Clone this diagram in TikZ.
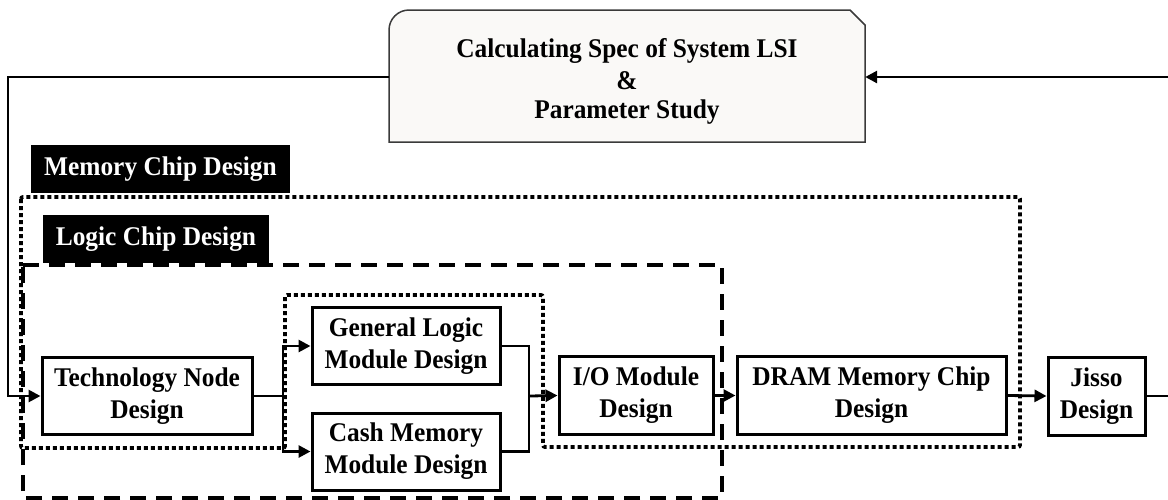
\documentclass[tikz,border=0pt]{standalone}
\usepackage{fontspec}
\setmainfont{Liberation Serif}[FakeStretch=0.94]
\usetikzlibrary{arrows.meta}
\definecolor{specfill}{HTML}{FAF9F7}
\definecolor{specline}{HTML}{3A3A3A}
\begin{document}
\begin{tikzpicture}[x=1pt,y=-1pt,
  every node/.style={font=\bfseries\fontsize{27}{32}\selectfont, align=center, inner sep=0pt},
  box/.style={draw, line width=3pt},
  tag/.style={fill=black, text=white},
  link/.style={line width=2.8pt},
  flow/.style={line width=2.8pt, -{Triangle[length=12pt,width=12pt]}},
  memregion/.style={line width=3.8pt, dash pattern=on 4pt off 3pt, rounded corners=2pt},
  logicregion/.style={line width=4pt, dash pattern=on 16pt off 10pt}]
\useasboundingbox (0,0) rectangle (1168,499);

% specification box with one rounded and one cut corner
\draw[line width=1.5pt, draw=specline, fill=specfill]
  (389,142) -- (389,30) .. controls (389,19) and (398,10) .. (409,10)
  -- (850,10) -- (865,25) -- (865,142) -- cycle;
\node[minimum width=476pt, minimum height=132pt] (spec) at (627,81)
  {Calculating Spec of System LSI\\\&\\[-3pt]Parameter Study};

% memory chip region (dotted, with a notch around the logic modules)
\draw[memregion] (21,197) -- (21,448) -- (285,448) -- (285,295) -- (543,295)
  -- (543,447) -- (1020,447) -- (1020,197) -- cycle;
% logic chip region (dashed)
\draw[logicregion] (23,265) -- (722,265) -- (722,498) -- (23,498) -- cycle;

% region tags
\node[tag, minimum width=259pt, minimum height=48pt] (memtag) at (160.5,169) {Memory Chip Design};
\node[tag, minimum width=226pt, minimum height=48pt] (logictag) at (156,239) {Logic Chip Design};

% design steps
\node[box, minimum width=210pt, minimum height=77pt] (tech) at (147,396) {Technology Node\\Design};
\node[box, minimum width=188pt, minimum height=77pt] (gen) at (406,346) {General Logic\\Module Design};
\node[box, minimum width=188pt, minimum height=77pt] (cash) at (406,451.5) {Cash Memory\\Module Design};
\node[box, minimum width=154pt, minimum height=78pt] (io) at (636,395.5) {I/O Module\\Design};
\node[box, minimum width=269pt, minimum height=78pt] (dram) at (871.5,395.5) {DRAM Memory Chip\\Design};
\node[box, minimum width=97pt, minimum height=78pt] (jisso) at (1096.5,396) {Jisso\\Design};

% branch and join points
\coordinate (split) at (283,396);
\coordinate (join) at (529,396);
\coordinate (lback) at (8,77);
\coordinate (rback) at (1180,77);

\draw[link] (tech.east) -- (split);
\draw[flow] (split) |- (gen.west);
\draw[flow] (split) |- (cash.west);
\draw[link] (gen.east) -| (join);
\draw[link] (cash.east) -| (join);
\draw[flow] (join) -- (io.west);
\draw[flow] (io.east) -- (dram.west);
\draw[flow] (dram.east) -- (jisso.west);

% feedback loop through the specification step
\draw[flow] (jisso.east) -| (rback) -- (spec.east |- rback);
\draw[flow] (spec.west |- lback) -- (lback) |- (tech.west);
\end{tikzpicture}
\end{document}
